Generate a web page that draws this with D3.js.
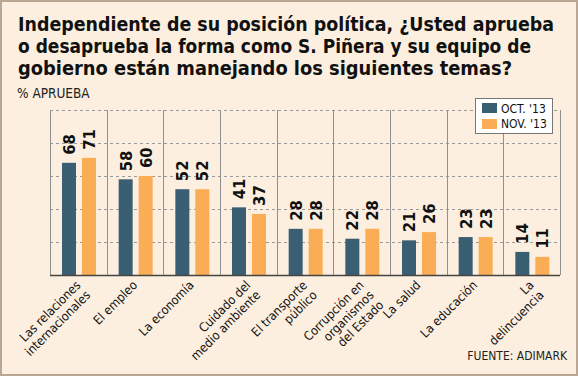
<!DOCTYPE html>
<html>
<head>
<meta charset="utf-8">
<script src="https://cdn.jsdelivr.net/npm/d3@7"></script>
<style>
  body { margin: 0; background: #fff; }
  svg text { font-family: "DejaVu Sans Condensed", "DejaVu Sans", sans-serif; font-stretch: condensed; }
</style>
</head>
<body>
<div id="chart"></div>
<script>
// Data
const categories = [
  "Las relaciones|internacionales",
  "El empleo",
  "La economía",
  "Cuidado del|medio ambiente",
  "El transporte|público",
  "Corrupción en|organismos|del Estado",
  "La salud",
  "La educación",
  "La|delincuencia"
];
const series = ["OCT. '13", "NOV. '13"];
const octValues = [68, 58, 52, 41, 28, 22, 21, 23, 14];
const novValues = [71, 60, 52, 37, 28, 28, 26, 23, 11];
const yTicks = [0, 20, 40, 60, 80, 100];
const titleLines = [
  "Independiente de su posición política, ¿Usted aprueba",
  "o desaprueba la forma como S. Piñera y su equipo de",
  "gobierno están manejando los siguientes temas?"
];
const titleWidths = [536, 513, 494];

const width = 578, height = 376;
const margin = { top: 110, right: 18, bottom: 101, left: 50 };
const colors = ["#3a5f72", "#fbad55"];

const svg = d3.select("#chart")
  .append("svg")
  .attr("width", width)
  .attr("height", height);

// background + frame
svg.append("rect")
  .attr("x", 1).attr("y", 1)
  .attr("width", width - 2).attr("height", height - 2)
  .attr("fill", "#fcefdf")
  .attr("stroke", "#bba593")
  .attr("stroke-width", 2);

// Title
svg.append("g").selectAll("text")
  .data(titleLines)
  .enter().append("text")
  .attr("x", 18)
  .attr("y", (d, i) => 31 + i * 22)
  .attr("font-size", "20px")
  .attr("font-weight", "bold")
  .attr("fill", "#111")
  .attr("textLength", (d, i) => titleWidths[i])
  .attr("lengthAdjust", "spacingAndGlyphs")
  .text(d => d);

svg.append("text")
  .attr("x", 17)
  .attr("y", 98)
  .attr("font-size", "13.5px")
  .attr("fill", "#222")
  .text("% APRUEBA");

const x = d3.scaleBand()
  .domain(categories)
  .range([margin.left, width - margin.right]);

const xSub = d3.scaleBand()
  .domain(series)
  .range([12, 46])
  .paddingInner(0.3);

const y = d3.scaleLinear()
  .domain([0, 100])
  .range([height - margin.bottom, margin.top]);

// horizontal dashed grid
svg.append("g").selectAll("line")
  .data(yTicks.slice(1))
  .enter().append("line")
  .attr("x1", margin.left)
  .attr("x2", width - margin.right)
  .attr("y1", d => y(d) + 0.5)
  .attr("y2", d => y(d) + 0.5)
  .attr("stroke", "#9a9a9a")
  .attr("stroke-dasharray", "3,3");

// vertical separators
svg.append("g").selectAll("line")
  .data(categories.slice(1).map(c => x(c)).concat([x.range()[0], x.range()[1]]))
  .enter().append("line")
  .attr("x1", d => Math.round(d) + 0.5)
  .attr("x2", d => Math.round(d) + 0.5)
  .attr("y1", y(100))
  .attr("y2", y(0))
  .attr("stroke", "#8f8f8f")
  .attr("stroke-width", 1);

// bars
const groups = svg.append("g").selectAll("g")
  .data(categories.map((c, i) => ({ cat: c, vals: [octValues[i], novValues[i]] })))
  .enter().append("g")
  .attr("transform", d => `translate(${x(d.cat)},0)`);

groups.selectAll("rect")
  .data(d => d.vals.map((v, j) => ({ key: series[j], v: v, j: j })))
  .enter().append("rect")
  .attr("x", d => xSub(d.key))
  .attr("y", d => y(d.v))
  .attr("width", xSub.bandwidth())
  .attr("height", d => y(0) - y(d.v))
  .attr("fill", d => colors[d.j]);

// value labels, rotated
groups.selectAll("text.val")
  .data(d => d.vals.map((v, j) => ({ key: series[j], v: v })))
  .enter().append("text")
  .attr("class", "val")
  .attr("transform", d => `translate(${xSub(d.key) + xSub.bandwidth() / 2 + 6},${y(d.v) - 8}) rotate(-90)`)
  .attr("font-size", "16.5px")
  .attr("font-weight", "bold")
  .attr("fill", "#111")
  .text(d => d.v);

// baseline
svg.append("line")
  .attr("x1", margin.left)
  .attr("x2", width - margin.right)
  .attr("y1", y(0) + 0.5)
  .attr("y2", y(0) + 0.5)
  .attr("stroke", "#444")
  .attr("stroke-width", 1.5);

// category labels at -45deg
const labels = svg.append("g").selectAll("g")
  .data(categories)
  .enter().append("g")
  .attr("transform", d => `translate(${x(d) + x.bandwidth() / 2 + 3},${y(0) + 11}) rotate(-45)`);

labels.append("text")
  .attr("text-anchor", "end")
  .attr("font-size", "12.5px")
  .attr("fill", "#111")
  .selectAll("tspan")
  .data(d => d.split("|"))
  .enter().append("tspan")
  .attr("x", 0)
  .attr("y", (d, i) => i * 14)
  .text(d => d);

// legend
const legend = svg.append("g")
  .attr("transform", "translate(475,98)");

legend.append("rect")
  .attr("x", 0.5).attr("y", 0.5)
  .attr("width", 77).attr("height", 35)
  .attr("fill", "#fff")
  .attr("stroke", "#777");

series.forEach((s, i) => {
  legend.append("rect")
    .attr("x", 7)
    .attr("y", 5 + i * 16)
    .attr("width", 15)
    .attr("height", 10)
    .attr("fill", colors[i]);
  legend.append("text")
    .attr("x", 26)
    .attr("y", 15 + i * 15)
    .attr("font-size", "12px")
    .attr("fill", "#111")
    .text(s);
});

// source
svg.append("text")
  .attr("x", 567)
  .attr("y", 360)
  .attr("text-anchor", "end")
  .attr("font-size", "12px")
  .attr("fill", "#222")
  .text("FUENTE: ADIMARK");
</script>
</body>
</html>
